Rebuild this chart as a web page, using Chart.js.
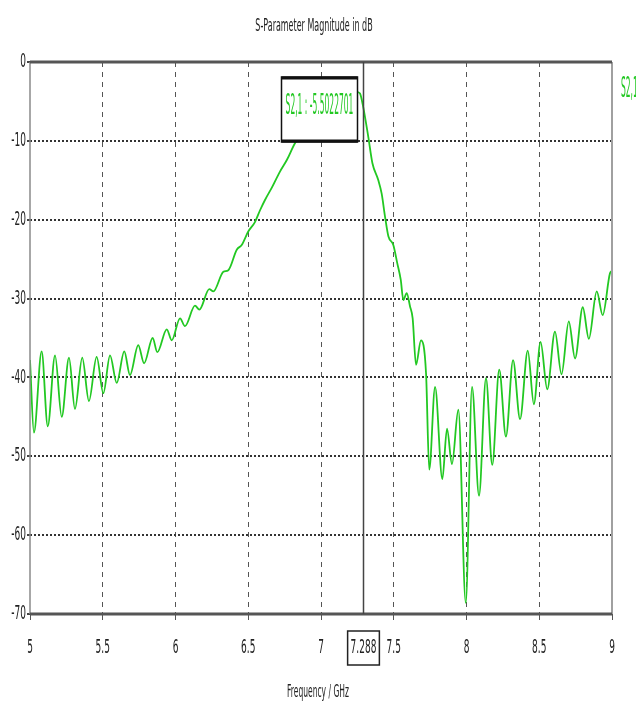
<!DOCTYPE html>
<html>
<head>
<meta charset="utf-8">
<script src="https://cdn.jsdelivr.net/npm/chart.js@4.4.1/dist/chart.umd.min.js"></script>
<style>
  html, body { margin: 0; padding: 0; background: #fff; }
  #wrap { width: 636px; height: 709px; }
</style>
</head>
<body>
<div id="wrap"><canvas id="chart" width="636" height="709"></canvas></div>
<script>
// values
const freq = [5.000, 5.027, 5.080, 5.122, 5.172, 5.218, 5.268, 5.309, 5.359, 5.405,
  5.458, 5.504, 5.550, 5.596, 5.648, 5.687, 5.744, 5.784, 5.843, 5.875,
  5.940, 5.974, 6.031, 6.065, 6.134, 6.164, 6.232, 6.260, 6.329, 6.363,
  6.421, 6.455, 6.500, 6.546, 6.581, 6.615, 6.663, 6.718, 6.766, 6.821,
  6.890, 6.959, 7.027, 7.096, 7.165, 7.213, 7.249, 7.268, 7.288, 7.325,
  7.353, 7.394, 7.417, 7.440, 7.463, 7.497, 7.524, 7.548, 7.566, 7.589,
  7.612, 7.630, 7.653, 7.687, 7.722, 7.744, 7.784, 7.834, 7.866, 7.900,
  7.944, 7.995, 8.038, 8.086, 8.134, 8.177, 8.225, 8.271, 8.320, 8.368,
  8.421, 8.463, 8.509, 8.555, 8.608, 8.653, 8.703, 8.746, 8.799, 8.841,
  8.895, 8.936, 8.986, 9.000]
const s21 = [-37.8, -47.0, -36.7, -46.2, -37.2, -45.0, -37.5, -44.0, -37.5, -43.0,
  -37.4, -42.0, -37.2, -40.7, -36.7, -39.7, -35.9, -38.2, -35.0, -36.8,
  -33.9, -35.3, -32.5, -33.5, -30.9, -31.4, -28.8, -29.1, -26.6, -26.4,
  -23.8, -23.2, -21.5, -20.3, -18.8, -17.5, -15.9, -13.9, -12.4, -10.3,
  -8.6, -7.4, -6.1, -5.1, -4.2, -3.7, -3.8, -4.0, -5.5, -9.5,
  -12.8, -15.0, -16.7, -19.6, -22.1, -23.2, -25.5, -27.6, -30.2, -29.3,
  -31.0, -32.5, -38.4, -35.3, -39.5, -51.7, -41.2, -52.9, -46.5, -51.0,
  -44.1, -68.6, -41.2, -55.0, -40.1, -51.1, -39.0, -47.5, -37.8, -45.3,
  -36.6, -43.4, -35.5, -41.5, -34.2, -39.6, -32.9, -37.6, -31.1, -35.1,
  -29.1, -32.1, -26.8, -26.5]

const xTicks = [5, 5.5, 6, 6.5, 7, 7.5, 8, 8.5, 9]
const yTicks = [0, -10, -20, -30, -40, -50, -60, -70]
const markerFreq = 7.288
const markerValue = -5.5022701
const traceName = "S2,1"
const titleText = "S-Parameter Magnitude in dB"
const xTitle = "Frequency / GHz"

const green = "#22c822"

// the original uses a very narrow font, so text is squeezed sideways
function squish(ctx, text, x, y, size, sx, align, color) {
  ctx.save()
  ctx.font = size + "px 'DejaVu Sans'"
  ctx.fillStyle = color
  ctx.textBaseline = "middle"
  ctx.textAlign = "left"
  const w = ctx.measureText(text).width * sx
  let left = x
  if (align === "center") left = x - w / 2
  else if (align === "right") left = x - w
  ctx.translate(left, y)
  ctx.scale(sx, 1)
  ctx.fillText(text, 0, 0)
  ctx.restore()
  return w
}

const decorations = {
  id: "decorations",
  afterDraw(chart) {
    const { ctx, chartArea: a, scales } = chart
    const xs = scales.x, ys = scales.y

    // frame
    ctx.save()
    ctx.strokeStyle = "#8a8a8a"
    ctx.lineWidth = 1.5
    ctx.beginPath(); ctx.moveTo(a.left, a.top); ctx.lineTo(a.left, a.bottom); ctx.stroke()
    ctx.strokeStyle = "#a0a0a0"
    ctx.lineWidth = 2
    ctx.beginPath(); ctx.moveTo(a.right, a.top); ctx.lineTo(a.right, a.bottom); ctx.stroke()
    ctx.strokeStyle = "#555"
    ctx.lineWidth = 3
    ctx.beginPath(); ctx.moveTo(a.left, a.top); ctx.lineTo(a.right, a.top); ctx.stroke()
    ctx.beginPath(); ctx.moveTo(a.left, a.bottom); ctx.lineTo(a.right, a.bottom); ctx.stroke()

    // marker line
    const mx = Math.round(xs.getPixelForValue(markerFreq)) + 0.5
    ctx.strokeStyle = "#444"
    ctx.lineWidth = 1.5
    ctx.beginPath(); ctx.moveTo(mx, a.top); ctx.lineTo(mx, a.bottom); ctx.stroke()

    // marker readout box
    const bw = 76, bh = 65
    const bx = mx - 82, by = a.top + 15
    ctx.fillStyle = "#fff"
    ctx.fillRect(bx, by, bw, bh)
    ctx.strokeStyle = "#111"
    ctx.lineWidth = 1.5
    ctx.strokeRect(bx, by, bw, bh)
    ctx.lineWidth = 3
    ctx.beginPath(); ctx.moveTo(bx, by + 1); ctx.lineTo(bx + bw, by + 1); ctx.stroke()
    ctx.beginPath(); ctx.moveTo(bx, by + bh - 1); ctx.lineTo(bx + bw, by + bh - 1); ctx.stroke()
    ctx.restore()
    squish(ctx, traceName + " : " + markerValue, bx + bw / 2, by + bh / 2 - 3, 28, 0.27, "center", green)

    // trace name at the right edge
    squish(ctx, traceName, a.right + 9, a.top + 28, 28, 0.27, "left", green)

    // title and axis texts
    squish(ctx, titleText, 314, 27, 17, 0.47, "center", "#222")
    yTicks.forEach(v => {
      squish(ctx, String(v), a.left - 4, ys.getPixelForValue(v), 20, 0.45, "right", "#222")
    })
    xTicks.forEach(v => {
      squish(ctx, String(v), xs.getPixelForValue(v), 648, 20, 0.45, "center", "#222")
    })
    const lw = squish(ctx, String(markerFreq), mx, 648, 20, 0.45, "center", "#222")
    ctx.save()
    ctx.strokeStyle = "#222"
    ctx.lineWidth = 1.5
    ctx.strokeRect(mx - lw / 2 - 3, 631, lw + 6, 34)
    ctx.restore()
    squish(ctx, xTitle, 318, 692, 18, 0.42, "center", "#222")
  }
}

new Chart(document.getElementById("chart"), {
  type: "scatter",
  data: {
    datasets: [{
      label: traceName,
      data: freq.map((f, i) => ({ x: f, y: s21[i] })),
      showLine: true,
      borderColor: green,
      borderWidth: 1.8,
      pointRadius: 0,
      cubicInterpolationMode: "monotone",
    }],
  },
  options: {
    responsive: false,
    animation: false,
    layout: { padding: { top: 62, right: 24, left: 0, bottom: 0 } },
    plugins: {
      legend: { display: false },
      tooltip: { enabled: false },
    },
    scales: {
      x: {
        type: "linear",
        min: 5,
        max: 9,
        afterBuildTicks: (scale) => { scale.ticks = xTicks.map(v => ({ value: v })) },
        afterFit: (scale) => { scale.height = 95 },
        ticks: { display: false },
        grid: {
          color: (c) => (c.tick && (c.tick.value === 5 || c.tick.value === 9)) ? "rgba(0,0,0,0)" : "#555",
          lineWidth: 1,
          tickLength: 6,
          tickColor: "#555",
        },
        border: { display: false, dash: [5, 5] },
      },
      y: {
        min: -70,
        max: 0,
        afterBuildTicks: (scale) => { scale.ticks = yTicks.map(v => ({ value: v })) },
        afterFit: (scale) => { scale.width = 30 },
        ticks: { display: false },
        grid: {
          color: (c) => (c.tick && (c.tick.value === 0 || c.tick.value === -70)) ? "rgba(0,0,0,0)" : "#333",
          lineWidth: 2,
          tickLength: 3,
          tickColor: "#444",
        },
        border: { display: false, dash: [2, 2] },
      },
    },
  },
  plugins: [decorations],
})
</script>
</body>
</html>
